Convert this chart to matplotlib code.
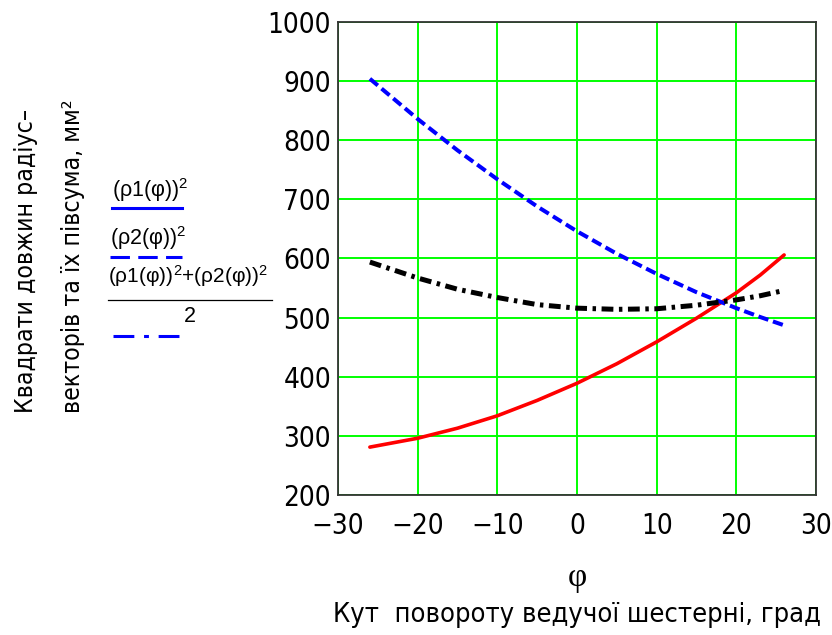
import matplotlib
matplotlib.use("Agg")
import matplotlib.pyplot as plt
from matplotlib.lines import Line2D

# values
phi = [-26, -20, -15, -10, -5, 0, 5, 10, 15, 20, 23, 26]
rho1_sq = [281, 296, 313, 334, 360, 389, 422, 459, 499, 542, 572, 606]
rho2_sq = [904, 836, 783, 734, 688, 646, 608, 574, 543, 516, 501, 487]
half_sum = [594, 567, 548, 534, 522, 516, 514, 515, 521, 530, 537, 546]

x_ticks = [-30, -20, -10, 0, 10, 20, 30]
y_ticks = [200, 300, 400, 500, 600, 700, 800, 900, 1000]

W, H = 832, 635
NARROW = ["DejaVu Sans"]

plt.rcParams["lines.scale_dashes"] = False
plt.rcParams["mathtext.fontset"] = "custom"
plt.rcParams["mathtext.rm"] = "Liberation Sans"
plt.rcParams["mathtext.it"] = "Liberation Sans"


def fx(px):
    return px / W


def fy(py):
    return 1 - py / H


fig = plt.figure(figsize=(W / 100, H / 100), dpi=100)
ax = fig.add_axes([fx(338), fy(495), fx(816) - fx(338), fy(22) - fy(495)])

ax.plot(phi, rho1_sq, color="#ff0000", lw=2.6, solid_capstyle="round", zorder=3)
ax.plot(phi, rho2_sq, color="#0000ff", lw=2.9, dashes=(7.5, 3.5), zorder=3)
ax.plot(phi, half_sum, color="black", lw=3.6, dashes=(8.5, 4.0, 2.5, 4.0), zorder=3)

ax.set_xlim(-30, 30)
ax.set_ylim(200, 1000)
ax.set_xticks(x_ticks)
ax.set_yticks(y_ticks)
ax.set_xticklabels(["\u2212" + str(-t) if t < 0 else str(t) for t in x_ticks])
ax.grid(True, color="#00ff00", lw=1.4)
ax.set_axisbelow(True)
ax.tick_params(length=0, labelsize=20, pad=5)
ax.tick_params(axis="x", pad=12)
for lab in ax.get_xticklabels() + ax.get_yticklabels():
    lab.set_family(NARROW)
    lab.set_stretch("condensed")
for s in ax.spines.values():
    s.set_color("#333333")
    s.set_linewidth(1.3)

# axis titles
fig.text(fx(577), fy(578), "φ", ha="center", va="center", fontsize=24,
         family=["Liberation Serif", "DejaVu Serif"])
fig.text(fx(577), fy(615), "Кут  повороту ведучої шестерні, град", ha="center",
         va="center", fontsize=19.5, family=NARROW, stretch="condensed")
fig.text(fx(26), fy(261), "Квадрати довжин радіус–", rotation=90, ha="center",
         va="center", fontsize=17.8, family=NARROW, stretch="condensed")
fig.text(fx(73), fy(256), "векторів та їх півсума, мм²", rotation=90, ha="center",
         va="center", fontsize=17.8, family=NARROW, stretch="condensed")

# legend in Mathcad style
LEG = ["Liberation Sans", "DejaVu Sans"]
fig.text(fx(112), fy(190), "(ρ1(φ))$^{2}$", ha="left", va="center", fontsize=15.5, family=LEG)
fig.add_artist(Line2D([fx(112), fx(182)], [fy(208), fy(208)], color="#0000ff", lw=2.2))
fig.text(fx(110), fy(238), "(ρ2(φ))$^{2}$", ha="left", va="center", fontsize=15.5, family=LEG)
fig.add_artist(Line2D([fx(110), fx(182)], [fy(257), fy(257)], color="#0000ff", lw=2.2,
                      dashes=(14, 6)))
fig.text(fx(108), fy(276), "(ρ1(φ))$^{2}$+(ρ2(φ))$^{2}$", ha="left", va="center",
         fontsize=15, family=LEG)
fig.add_artist(Line2D([fx(108), fx(272)], [fy(300), fy(300)], color="black", lw=0.9))
fig.text(fx(190), fy(317), "2", ha="center", va="center", fontsize=15.5, family=LEG)
fig.add_artist(Line2D([fx(113), fx(188)], [fy(336), fy(336)], color="#0000ff", lw=2.2,
                      dashes=(15, 7, 3.5, 7)))

fig.savefig("out.png", dpi=100)
